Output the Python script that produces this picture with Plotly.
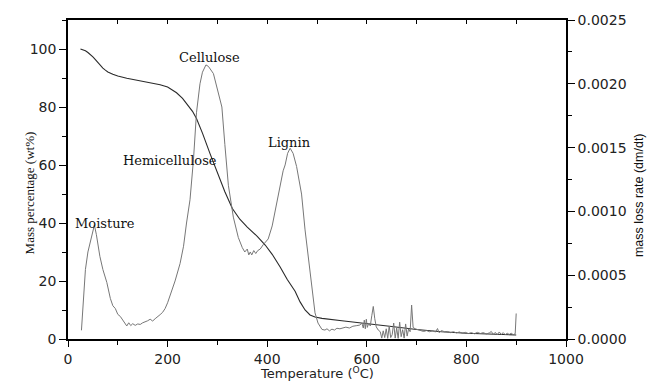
import plotly.graph_objects as go

# ---- TG curve (mass percentage, wt%) ----
tg_temp = [25, 30, 35, 40, 45, 50, 55, 60, 65, 70, 75, 80, 90, 100, 118, 140, 158, 185, 200, 218,
           230, 238, 250, 258, 270, 285, 300, 315, 330, 345, 360, 380, 396, 410, 426, 440, 456,
           466, 476, 486, 496, 510, 550, 600, 650, 700, 750, 800, 850, 900]
tg_mass = [100, 99.8, 99.4, 98.8, 98.1, 97.3, 96.3, 95.2, 94.2, 93.4, 92.7, 92.1, 91.3, 90.7,
           89.9, 89.2, 88.6, 87.7, 86.9, 84.9, 83.0, 81.3, 78.5, 76.0, 71.0, 64.0, 57.2, 50.8,
           45.0, 41.3, 38.6, 35.4, 32.4, 29.2, 24.8, 20.6, 16.5, 12.8, 10.0, 8.3, 7.6, 7.1, 6.3,
           5.2, 4.3, 3.3, 2.5, 2.0, 1.7, 1.4]

# ---- DTG curve (mass loss rate, dm/dt) ----
dtg_temp = [27, 30, 35, 40, 45, 50, 53, 57, 64, 70, 78, 85, 90, 95, 100, 105, 110, 115, 118,
            122, 126, 130, 135, 140, 145, 150, 155, 160, 165, 170, 175, 180, 185, 190, 195, 200,
            208, 215, 225, 232, 238, 245, 252, 258, 265, 270, 277, 282, 292, 302, 309, 315, 322,
            332, 342, 350, 355, 360, 363, 366, 369, 373, 377, 381, 386, 392, 402, 410, 419, 426,
            432, 436, 441, 446, 452, 459, 465, 469, 476, 483, 488, 496, 502, 506, 510, 516, 520,
            525, 530, 535, 540, 546, 552, 558, 565, 572, 580, 586, 590, 593, 595, 597, 599, 601,
            604, 607, 610, 613, 616, 619, 623, 627, 630, 633, 636, 639, 642, 645, 648, 651, 654,
            657, 660, 663, 666, 669, 672, 675, 678, 681, 684, 687, 690, 693, 697, 702, 708, 714,
            720, 726, 732, 738, 742, 745, 750, 756, 762, 768, 774, 780, 786, 792, 798, 804, 810,
            816, 822, 828, 834, 840, 846, 850, 854, 858, 862, 866, 870, 874, 878, 882, 886, 890,
            894, 898, 900]
dtg_rate = [0.000068, 0.000273, 0.000545, 0.000682, 0.000773, 0.000864, 0.000893, 0.000818,
            0.000648, 0.000545, 0.000443, 0.000318, 0.000261, 0.000239, 0.000193, 0.000177,
            0.000148, 0.000125, 0.000102,
            0.000127, 0.000105, 0.000120, 0.000107, 0.000118, 0.000114, 0.000127, 0.000134,
            0.000143, 0.000155, 0.000141, 0.000159, 0.000173, 0.000191, 0.000209, 0.000239,
            0.000284,
            0.000375, 0.000455, 0.000591, 0.000727, 0.000909, 0.001091, 0.001409, 0.001773,
            0.002000, 0.002091, 0.002148, 0.002136, 0.002080, 0.001932, 0.001818, 0.001523,
            0.001205,
            0.000955, 0.000795, 0.000716, 0.000682, 0.000705, 0.000659, 0.000682, 0.000659,
            0.000693, 0.000670, 0.000693, 0.000705, 0.000739, 0.000784, 0.000886, 0.001068,
            0.001182,
            0.001318, 0.001364, 0.001455, 0.001495, 0.001455, 0.001352, 0.001227, 0.001136,
            0.000855, 0.000614, 0.000432, 0.000205, 0.000125, 0.000095, 0.000075, 0.000070,
            0.000080,
            0.000064, 0.000077, 0.000070, 0.000084, 0.000080, 0.000089, 0.000093, 0.000086,
            0.000100, 0.000105, 0.000109, 0.000125, 0.000086, 0.000148, 0.000080, 0.000155,
            0.000091,
            0.000125, 0.000102, 0.000182, 0.000255, 0.000159, 0.000095, 0.000070, 0.000057,
            0.000007, 0.000064, 0.000011, 0.000080, 0.000005, 0.000102, 0.000011, 0.000034,
            0.000125,
            0.000007, 0.000086, 0.000005, 0.000132, 0.000018, 0.000073, 0.000007, 0.000118,
            0.000023, 0.000080, 0.000057, 0.000266, 0.000091, 0.000080, 0.000073, 0.000068,
            0.000059,
            0.000066, 0.000057, 0.000064, 0.000055, 0.000082, 0.000050, 0.000066, 0.000057,
            0.000059, 0.000050, 0.000057, 0.000048, 0.000055, 0.000045, 0.000052, 0.000043,
            0.000050,
            0.000041, 0.000052, 0.000043, 0.000050, 0.000039, 0.000048, 0.000059, 0.000036,
            0.000052, 0.000034, 0.000055, 0.000036, 0.000050, 0.000034, 0.000045, 0.000036,
            0.000045,
            0.000034, 0.000041, 0.000200]

# ---- labels ----
peak_labels = ["Moisture", "Hemicellulose", "Cellulose", "Lignin"]
peak_label_x = [74, 205, 285, 444]
peak_label_y = [40, 61.7, 96.9, 67.6]

x_ticks = [0, 200, 400, 600, 800, 1000]
y_left_ticks = [0, 20, 40, 60, 80, 100]
y_right_ticks = [0.0, 0.0005, 0.0010, 0.0015, 0.0020, 0.0025]

fig = go.Figure()
fig.add_trace(go.Scatter(x=dtg_temp, y=dtg_rate, mode="lines", yaxis="y2",
                         line=dict(color="#777777", width=1), showlegend=False))
fig.add_trace(go.Scatter(x=tg_temp, y=tg_mass, mode="lines",
                         line=dict(color="#2a2a2a", width=1.1),
                         showlegend=False))
# dummy trace to make the top mirror axis render
fig.add_trace(go.Scatter(x=[None], y=[None], xaxis="x2", showlegend=False, hoverinfo="skip"))

tickfont = dict(family="DejaVu Sans", size=14, color="#222")

fig.update_layout(
    width=652, height=390,
    margin=dict(l=68, r=86, t=20, b=51),
    paper_bgcolor="white", plot_bgcolor="white",
    xaxis=dict(range=[0, 1000], tickvals=x_ticks, ticks="outside", ticklen=6, tickwidth=1.3,
               tickcolor="black", showline=True, linecolor="black", linewidth=1.5,
               showgrid=False, zeroline=False, tickfont=tickfont,
               minor=dict(ticks="outside", ticklen=4, dtick=100, tick0=0, tickcolor="black",
                          tickwidth=1.2)),
    xaxis2=dict(range=[0, 1000], overlaying="x", side="top", anchor="y", ticks="inside",
                ticklen=4, dtick=100, tick0=0, tickcolor="black", tickwidth=1.2,
                showticklabels=False, showline=True, linecolor="black", linewidth=1.5,
                showgrid=False, zeroline=False),
    yaxis=dict(range=[0, 110], tickvals=y_left_ticks, ticks="outside", ticklen=7, tickwidth=1.3,
               tickcolor="black", showline=True, linecolor="black", linewidth=1.5,
               showgrid=False, zeroline=False, tickfont=tickfont,
               minor=dict(ticks="outside", ticklen=4, dtick=10, tick0=0, tickcolor="black",
                          tickwidth=1.2)),
    yaxis2=dict(range=[0, 0.0025], overlaying="y", side="right", anchor="x",
                tickvals=y_right_ticks, tickformat=".4f", ticks="outside", ticklen=7,
                tickwidth=1.3, tickcolor="black", showline=True, linecolor="black",
                linewidth=1.5, showgrid=False, zeroline=False, tickfont=tickfont,
                minor=dict(ticks="outside", ticklen=4, dtick=0.00025, tick0=0,
                           tickcolor="black", tickwidth=1.2)),
)

for txt, xv, yv in zip(peak_labels, peak_label_x, peak_label_y):
    fig.add_annotation(x=xv, y=yv, xref="x", yref="y", text=txt, showarrow=False,
                       font=dict(family="DejaVu Serif", size=13, color="#111"))

fig.add_annotation(x=0.5, y=-0.138, xref="paper", yref="paper",
                   text="Temperature (<sup>O</sup>C)", showarrow=False,
                   font=dict(family="DejaVu Sans", size=13, color="#222"))
fig.add_annotation(x=-0.0964, y=0.458, xref="paper", yref="paper", textangle=-90,
                   text="Mass percentage (wt%)", showarrow=False,
                   font=dict(family="Liberation Serif", size=13, color="#111"))
fig.add_annotation(x=1.1646, y=0.451, xref="paper", yref="paper", textangle=-90,
                   text="mass loss rate (dm/dt)", showarrow=False,
                   font=dict(family="Liberation Sans", size=12.5, color="#111"))

fig.write_html("out.html")
